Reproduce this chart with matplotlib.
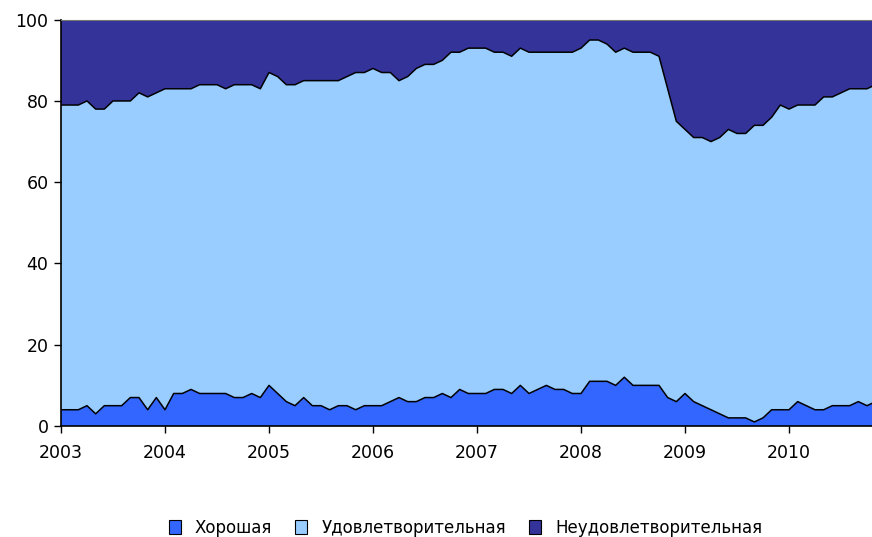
import matplotlib
matplotlib.use("Agg")
import matplotlib.pyplot as plt
from matplotlib.patches import Patch
import numpy as np

# monthly data, Jan 2003 .. Nov 2010
years = [2003, 2004, 2005, 2006, 2007, 2008, 2009, 2010]

good = [4, 4, 4, 5, 3, 5, 5, 5, 7, 7, 4, 7,
        4, 8, 8, 9, 8, 8, 8, 8, 7, 7, 8, 7,
        10, 8, 6, 5, 7, 5, 5, 4, 5, 5, 4, 5,
        5, 5, 6, 7, 6, 6, 7, 7, 8, 7, 9, 8,
        8, 8, 9, 9, 8, 10, 8, 9, 10, 9, 9, 8,
        8, 11, 11, 11, 10, 12, 10, 10, 10, 10, 7, 6,
        8, 6, 5, 4, 3, 2, 2, 2, 1, 2, 4, 4,
        4, 6, 5, 4, 4, 5, 5, 5, 6, 5, 6]

# good + satisfactory (cumulative)
good_satisf = [79, 79, 79, 80, 78, 78, 80, 80, 80, 82, 81, 82,
               83, 83, 83, 83, 84, 84, 84, 83, 84, 84, 84, 83,
               87, 86, 84, 84, 85, 85, 85, 85, 85, 86, 87, 87,
               88, 87, 87, 85, 86, 88, 89, 89, 90, 92, 92, 93,
               93, 93, 92, 92, 91, 93, 92, 92, 92, 92, 92, 92,
               93, 95, 95, 94, 92, 93, 92, 92, 92, 91, 83, 75,
               73, 71, 71, 70, 71, 73, 72, 72, 74, 74, 76, 79,
               78, 79, 79, 79, 81, 81, 82, 83, 83, 83, 84]

labels = ["Хорошая", "Удовлетворительная", "Неудовлетворительная"]
colors = ["#3366FF", "#99CCFF", "#333399"]

good = np.array(good)
good_satisf = np.array(good_satisf)
satisf = good_satisf - good
bad = 100 - good_satisf
t = np.arange(len(good))

fig = plt.figure(figsize=(8.72, 5.37), dpi=100)
ax = fig.add_axes([61 / 872, 1 - 426 / 537, 1 - 61 / 872, (426 - 19.7) / 537])

ax.stackplot(t, good, satisf, bad, colors=colors, linewidth=0)
ax.plot(t, good, color="black", lw=1.1)
ax.plot(t, good_satisf, color="black", lw=1.1)

ax.set_xlim(0, 811 / (104 / 12))
ax.set_ylim(0, 100)
ax.set_yticks([0, 20, 40, 60, 80, 100])
ax.set_xticks(np.arange(len(years)) * 12)
ax.set_xticklabels([str(y) for y in years])
ax.tick_params(axis="both", direction="out", length=5, width=1, labelsize=12.5, colors="black")
ax.tick_params(axis="x", pad=8)
ax.tick_params(axis="y", pad=4)

ax.spines["right"].set_visible(False)
ax.spines["top"].set_color("#777777")
ax.spines["left"].set_linewidth(1.2)
ax.spines["bottom"].set_linewidth(1.2)

handles = [Patch(facecolor=c, edgecolor="black", linewidth=0.8) for c in colors]
fig.legend(handles, labels, loc="center", bbox_to_anchor=(465.5 / 872, 1 - 528 / 537), ncol=3,
           frameon=False, fontsize=12, handlelength=0.7, handleheight=0.9,
           handletextpad=0.85, columnspacing=1.4)

fig.savefig("out.png", dpi=100)
